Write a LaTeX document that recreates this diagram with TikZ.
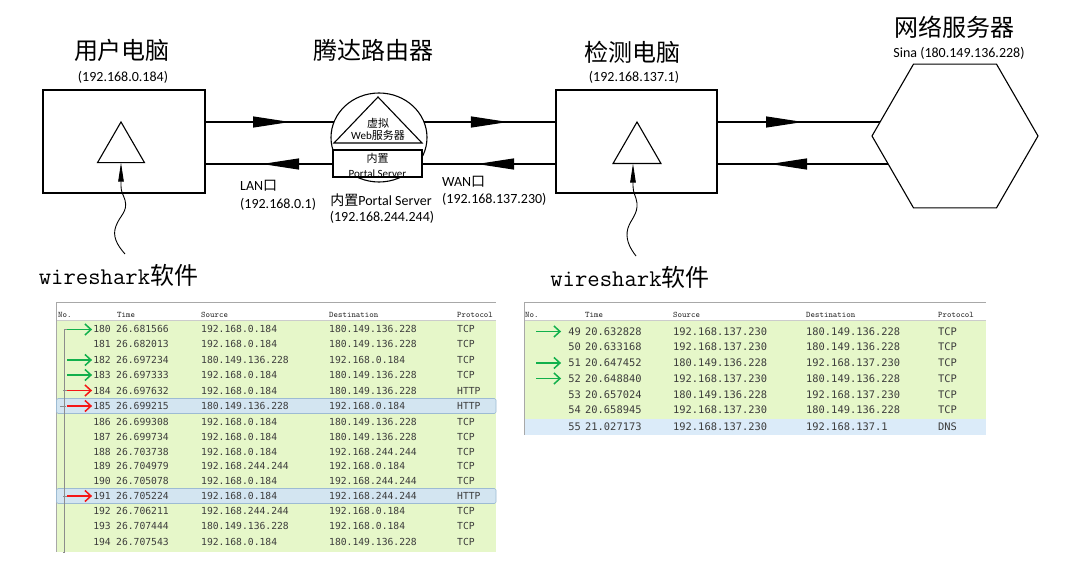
\documentclass[tikz,border=0pt]{standalone}
\usepackage{fontspec}
\setmainfont{Carlito}
\newfontfamily\cjk{Noto Sans CJK SC}
\newfontfamily\dmono{DejaVu Sans Mono}
\usetikzlibrary{arrows.meta,shapes.geometric,decorations.markings,calc}
\definecolor{rowg}{HTML}{E6F7C9}
\definecolor{rowsel}{HTML}{D3E5F1}
\definecolor{selbd}{HTML}{9DBBD3}
\definecolor{dnsb}{HTML}{DBEBF9}
\definecolor{datc}{HTML}{3C3C3C}
\definecolor{garr}{HTML}{12B04C}
\definecolor{rarr}{HTML}{F51616}
\definecolor{frame}{HTML}{A8A8A8}
\begin{document}
\begin{tikzpicture}[x=1pt,y=-1pt,
  pcbox/.style={draw, line width=1.1pt, minimum width=162pt, minimum height=103pt, inner sep=0pt, outer sep=0pt},
  ttl/.style={font=\cjk\fontsize{24}{26}\selectfont, inner sep=0pt},
  lbl/.style={font=\fontsize{14}{16}\selectfont, inner sep=0pt},
  small/.style={font=\fontsize{11}{13}\selectfont, inner sep=0pt, align=center},
  wst/.style={font=\fontsize{24}{26}\selectfont, inner sep=0pt},
  tri/.style={draw, line width=1.1pt, regular polygon, regular polygon sides=3, inner sep=0pt, outer sep=0pt},
  link/.style={line width=1.1pt},
  fwd/.style={postaction={decorate, decoration={markings, mark=at position #1 with {\arrow{Triangle[length=37pt,width=11pt]}}}}},
  bwd/.style={postaction={decorate, decoration={markings, mark=at position #1 with {\arrowreversed{Triangle[length=37pt,width=11pt]}}}}},
  wire/.style={line width=0.9pt, -{Triangle[length=19pt,width=5.5pt]}},
  datL/.style={font=\dmono\fontsize{9.7}{11}\selectfont, inner sep=0pt, text=datc, text height=7pt, text depth=0pt},
  datR/.style={font=\dmono\fontsize{10.4}{12}\selectfont, inner sep=0pt, text=datc, text height=7.5pt, text depth=0pt},
  hdr/.style={font=\ttfamily\fontsize{8.5}{10}\selectfont, inner sep=0pt, anchor=west, text=black!85, text height=5.5pt, text depth=0pt},
  garrow/.style={garr, line width=1.5pt, -{Straight Barb[length=6pt,width=11pt]}},
  rarrow/.style={rarr, line width=1.5pt, -{Straight Barb[length=6pt,width=11pt]}},
  rel/.style={black!45, line width=0.6pt}
]
\useasboundingbox (0,0) rectangle (1080,564);
\fill[white] (0,0) rectangle (1080,564);

% ---------------- top diagram ----------------
\node[pcbox] (pc1) at (124,141.5) {};
\node[pcbox, minimum width=161pt] (pc2) at (636.5,141.5) {};
\node[draw, line width=1.1pt, ellipse, minimum width=96pt, minimum height=89pt, inner sep=0pt, outer sep=0pt] (rt) at (379,137.5) {};
\node[draw, line width=1.1pt, regular polygon, regular polygon sides=6, minimum size=166pt, inner sep=0pt, outer sep=0pt] (hex) at (955,136) {};

\node[tri, minimum size=54.3pt] (tri1) at (121,149.1) {};
\node[tri, minimum size=55.4pt] (tri2) at (637,149.7) {};

% router inside
\draw[line width=1.1pt] (334,143) -- (378,97) -- (422,143) -- cycle;
\node[small] (web) at (378,129.5) {\cjk 虚拟\\[-1pt]Web{\cjk 服务器}};
\node[draw, fill=white, line width=1.1pt, minimum width=89pt, minimum height=27pt, inner sep=0pt, outer sep=0pt] (portal) at (377.5,163.5) {};
\node[small, font=\fontsize{11}{15}\selectfont] (ptxt) at (377.5,165) {\cjk 内置\\Portal Server};

% titles
\node[ttl] (t1) at (122,50) {用户电脑};
\node[lbl] (ip1) at (123,77) {(192.168.0.184)};
\node[ttl] (t2) at (373,50) {腾达路由器};
\node[ttl] (t3) at (632,52) {检测电脑};
\node[lbl] (ip3) at (634,77) {(192.168.137.1)};
\node[ttl] (t4) at (954,27) {网络服务器};
\node[lbl] (ip4) at (959,53) {Sina (180.149.136.228)};

\node[lbl, anchor=west] (lan) at (240,186) {LAN{\cjk 口}};
\node[lbl, anchor=west] (lanip) at (240,204) {(192.168.0.1)};
\node[lbl] (pt) at (381,200) {{\cjk 内置}Portal Server};
\node[lbl] (ptip) at (382,217) {(192.168.244.244)};
\node[lbl, anchor=west] (wan) at (442,182) {WAN{\cjk 口}};
\node[lbl, anchor=west] (wanip) at (442,199) {(192.168.137.230)};

% connectors
\coordinate (a1) at ([yshift=19.5pt]pc1.east);
\coordinate (a2) at ([yshift=-22.5pt]pc1.east);
\coordinate (b1) at ([yshift=19.5pt]pc2.west);
\coordinate (b2) at ([yshift=-22.5pt]pc2.west);
\coordinate (c1) at ([yshift=19.5pt]pc2.east);
\coordinate (c2) at ([yshift=-22.5pt]pc2.east);
\draw[link, fwd=85pt] (a1) -- (a1 -| rt.161);
\draw[link, bwd=57pt] (a2) -- (a2 -| portal.west);
\draw[link, fwd=84pt] (b1 -| rt.19) -- (b1);
\draw[link, bwd=55pt] (b2 -| portal.east) -- (b2);
\draw[link, fwd=86pt] (c1) -- (c1 -| hex.169);
\draw[link, bwd=53pt] (c2) -- (c2 -| hex.203);

% wireshark
\node[wst] (ws1) at (118.5,275) {{\ttfamily wireshark}{\cjk 软件}};
\node[wst] (ws2) at (630,277) {{\ttfamily wireshark}{\cjk 软件}};
\coordinate (w1) at (125,254);
\coordinate (w2) at (636,256);
\draw[wire] (w1) .. controls (117,245) and (112,236) .. (116,226)
  .. controls (120,215) and (128,212) .. (125,200)
  .. controls (123,194) and (121,192) .. (121,186) -- (tri1.270);
\draw[wire] (w2) .. controls (629,247) and (625,238) .. (628,228)
  .. controls (631,219) and (638,214) .. (637,203)
  .. controls (636,196) and (633,193) .. (633,186) -- ([xshift=-4pt]tri2.270);

% ---------------- left table ----------------
\fill[rowg] (56,320) rectangle (496,552);
\draw[frame, line width=1.6pt] (56,302.5) -- (496,302.5);
\draw[black!20, line width=0.6pt] (56,320) -- (496,320);
\draw[frame, line width=0.7pt] (56,303) -- (56,552);
\draw[selbd, fill=rowsel, rounded corners=1.5pt, line width=0.6pt] (56.5,398.5) rectangle (496,413.5);
\draw[selbd, fill=rowsel, rounded corners=1.5pt, line width=0.6pt] (56.5,488.5) rectangle (496,503.5);
\node[hdr] (lh1) at (58,315) {No.};
\node[hdr] (lh2) at (117,315) {Time};
\node[hdr] (lh3) at (201,315) {Source};
\node[hdr] (lh4) at (329,315) {Destination};
\node[hdr] (lh5) at (457,315) {Protocol};
\foreach \n/\y/\t/\s/\d/\p in {
 180/329.5/26.681566/192.168.0.184/180.149.136.228/TCP,
 181/344.5/26.682013/192.168.0.184/180.149.136.228/TCP,
 182/360/26.697234/180.149.136.228/192.168.0.184/TCP,
 183/375/26.697333/192.168.0.184/180.149.136.228/TCP,
 184/390.5/26.697632/192.168.0.184/180.149.136.228/HTTP,
 185/406/26.699215/180.149.136.228/192.168.0.184/HTTP,
 186/421.5/26.699308/192.168.0.184/180.149.136.228/TCP,
 187/437/26.699734/192.168.0.184/180.149.136.228/TCP,
 188/452/26.703738/192.168.0.184/192.168.244.244/TCP,
 189/465.5/26.704979/192.168.244.244/192.168.0.184/TCP,
 190/480.5/26.705078/192.168.0.184/192.168.244.244/TCP,
 191/496/26.705224/192.168.0.184/192.168.244.244/HTTP,
 192/511/26.706211/192.168.244.244/192.168.0.184/TCP,
 193/526/26.707444/180.149.136.228/192.168.0.184/TCP,
 194/541.5/26.707543/192.168.0.184/180.149.136.228/TCP}{
  \node[datL, anchor=east] (Ln\n) at (111,\y) {\n};
  \node[datL, anchor=west] (Lt\n) at (116,\y) {\t};
  \node[datL, anchor=west] (Ls\n) at (201,\y) {\s};
  \node[datL, anchor=west] (Ld\n) at (329,\y) {\d};
  \node[datL, anchor=west] (Lp\n) at (457,\y) {\p};
}
% related packet line
\draw[rel] ([xshift=-22pt]Ln180.west) -- ([xshift=-29pt]Ln180.west) |- (63,552);
\draw[rel] (63,390.5) -- (72,390.5);
\draw[rel] (60,406) -- (66,406);
\draw[rel] (63,496) -- (72,496);
\foreach \n in {180,182,183}{
  \draw[garrow] ([xshift=-26pt]Ln\n.west) -- ([xshift=-1pt]Ln\n.west);
}
\foreach \n in {184,185,191}{
  \draw[rarrow] ([xshift=-26pt]Ln\n.west) -- ([xshift=-1pt]Ln\n.west);
}

% ---------------- right table ----------------
\fill[rowg] (524,320) rectangle (986,418.5);
\fill[dnsb] (524,418.5) rectangle (986,435);
\draw[frame, line width=1.6pt] (524,302.5) -- (986,302.5);
\draw[black!20, line width=0.6pt] (524,320) -- (986,320);
\draw[frame, line width=0.7pt] (524,303) -- (524,435);
\node[hdr] (rh1) at (525,315) {No.};
\node[hdr] (rh2) at (585,315) {Time};
\node[hdr] (rh3) at (673,315) {Source};
\node[hdr] (rh4) at (806,315) {Destination};
\node[hdr] (rh5) at (938,315) {Protocol};
\foreach \n/\y/\t/\s/\d/\p in {
 49/331.5/20.632828/192.168.137.230/180.149.136.228/TCP,
 50/347/20.633168/192.168.137.230/180.149.136.228/TCP,
 51/363/20.647452/180.149.136.228/192.168.137.230/TCP,
 52/378.5/20.648840/192.168.137.230/180.149.136.228/TCP,
 53/394.5/20.657024/180.149.136.228/192.168.137.230/TCP,
 54/410/20.658945/192.168.137.230/180.149.136.228/TCP,
 55/427/21.027173/192.168.137.230/192.168.137.1/DNS}{
  \node[datR, anchor=east] (Rn\n) at (581,\y) {\n};
  \node[datR, anchor=west] (Rt\n) at (585,\y) {\t};
  \node[datR, anchor=west] (Rs\n) at (673,\y) {\s};
  \node[datR, anchor=west] (Rd\n) at (806,\y) {\d};
  \node[datR, anchor=west] (Rp\n) at (938,\y) {\p};
}
\foreach \n in {49,51,52}{
  \draw[garrow] ([xshift=-32pt]Rn\n.west) -- ([xshift=-7pt]Rn\n.west);
}
\end{tikzpicture}
\end{document}
